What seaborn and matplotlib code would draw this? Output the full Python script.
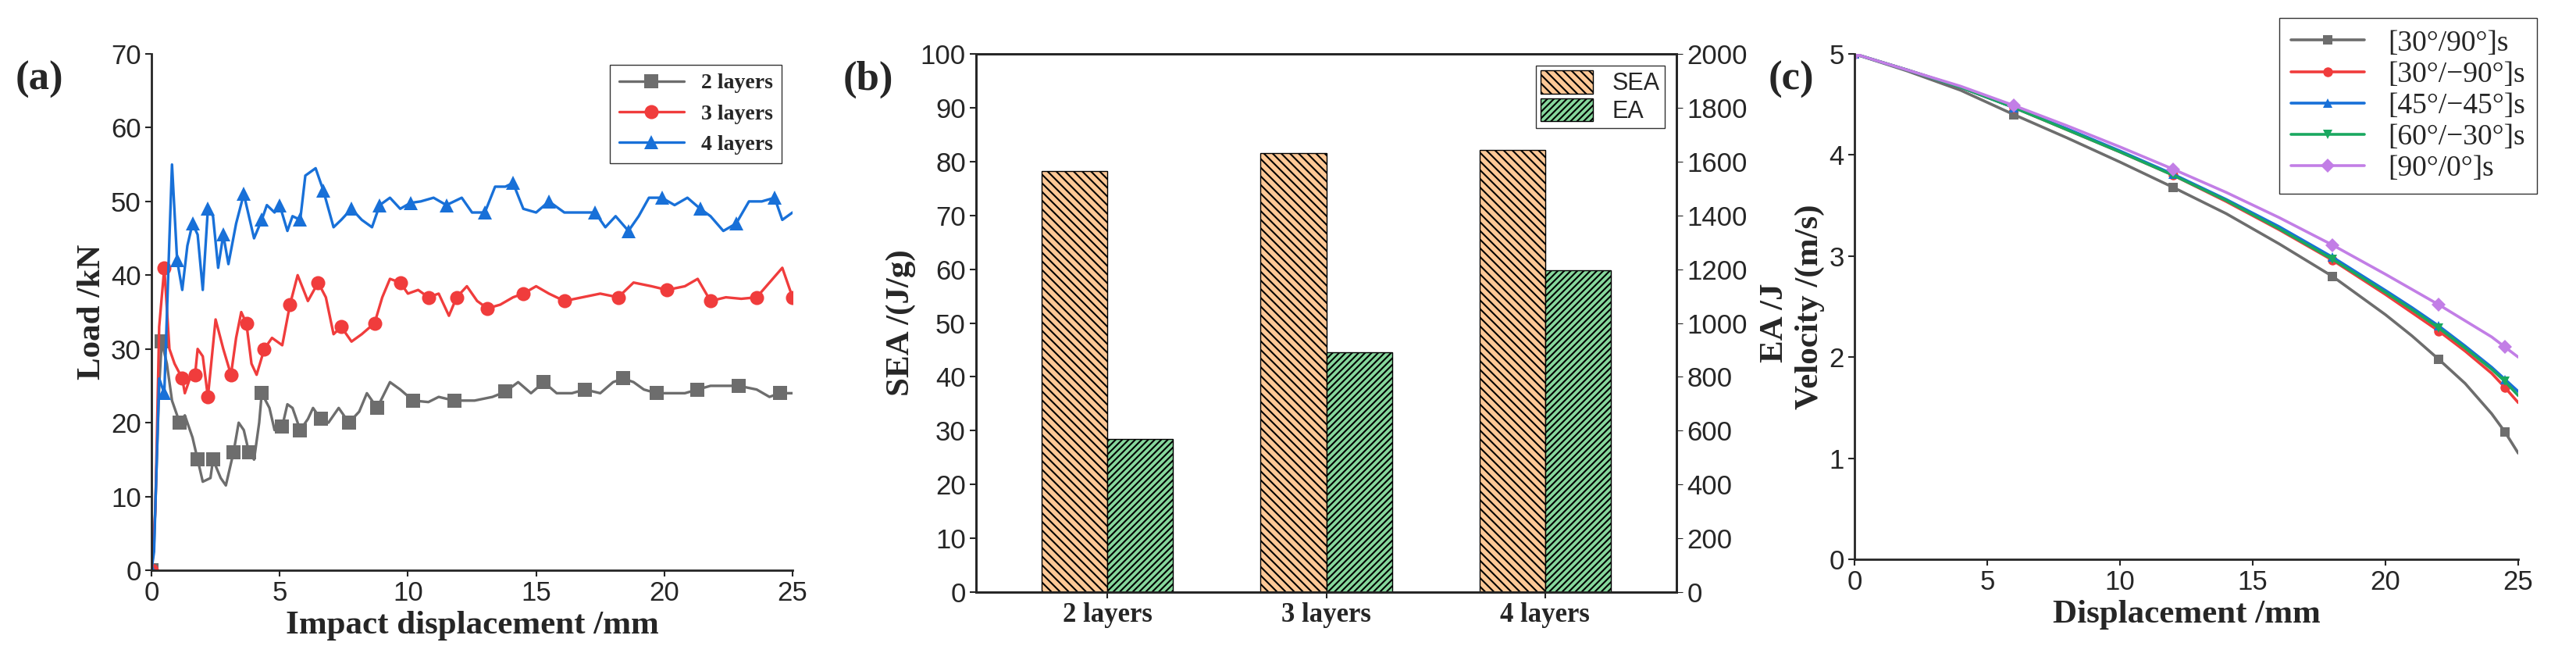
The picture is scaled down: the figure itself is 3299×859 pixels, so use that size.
import numpy as np
import matplotlib
matplotlib.use('Agg')
import matplotlib.pyplot as plt
import seaborn as sns

sns.set_style('ticks')
plt.rcParams['font.family'] = ['Liberation Sans', 'DejaVu Sans']
plt.rcParams['hatch.linewidth'] = 1.5

# (a) load vs displacement
x2 = [0, 0.1, 0.3, 0.4, 0.6, 0.8, 1.1, 1.3, 1.6, 1.8, 2.0, 2.3, 2.4, 2.7, 2.9, 3.2, 3.4, 3.6, 3.8, 4.0, 4.2, 4.3, 4.6, 4.8,
      5.1, 5.3, 5.5, 5.8, 6.1, 6.3, 6.6, 6.9, 7.3, 7.7, 8.1, 8.4, 8.8, 9.3, 9.7, 10.2, 10.8, 11.2, 11.8, 12.6, 13.3, 13.8,
      14.3, 14.8, 15.3, 15.8, 16.4, 16.9, 17.5, 18.0, 18.4, 18.8, 19.2, 19.7, 20.3, 20.8, 21.3, 21.8, 22.4, 22.9, 23.6,
      24.1, 24.5, 25]
y2 = [0, 3.5, 25, 31, 28, 23, 20, 21, 18, 15, 12, 12.5, 15, 12.5, 11.5, 16, 20, 19, 16, 15, 20, 24, 22, 19,
      19.5, 22.5, 22, 19, 20.5, 22, 20.5, 20, 22, 20, 21.5, 24, 22, 25.5, 24.5, 23, 22.8, 23.5, 23, 23, 23.5, 24.2,
      25.5, 24, 25.5, 24, 24, 24.5, 24, 25.5, 26, 25.5, 24.5, 24, 24, 24, 24.5, 25, 25, 25, 24.5,
      23.5, 24, 24]
x3 = [0, 0.15, 0.3, 0.5, 0.7, 0.9, 1.2, 1.3, 1.5, 1.7, 1.8, 2.0, 2.2, 2.5, 2.8, 3.1, 3.3, 3.5, 3.7, 3.9, 4.1, 4.4, 4.7,
      5.1, 5.4, 5.7, 6.1, 6.5, 6.8, 7.1, 7.4, 7.8, 8.2, 8.7, 9.0, 9.3, 9.7, 10.0, 10.4, 10.8, 11.2, 11.6, 11.9, 12.3,
      12.7, 13.1, 13.6, 14.1, 14.5, 15.0, 15.5, 16.1, 16.8, 17.5, 18.2, 18.8, 19.5, 20.1, 20.8, 21.3, 21.8, 22.4,
      23.0, 23.6, 24.1, 24.6, 25]
y3 = [0, 8, 33, 41, 30, 28, 26, 24, 26, 26.5, 30, 29, 23.5, 34, 30, 26.5, 31.5, 35, 33.5, 28, 26.5, 30, 31.5,
      30.5, 36, 40, 36.5, 39, 37, 32, 33, 31, 32, 33.5, 37, 39.5, 39, 37.5, 38, 37, 37.5, 34.5, 37, 38.5,
      36.5, 35.5, 36, 37, 37.5, 38.5, 37.5, 36.5, 37, 37.5, 37, 39, 38.5, 38, 38.5, 39.5, 36.5, 37,
      36.8, 37, 39, 41, 37]
x4 = [0, 0.1, 0.3, 0.5, 0.7, 0.8, 1.0, 1.2, 1.4, 1.6, 1.8, 2.0, 2.2, 2.4, 2.6, 2.8, 3.0, 3.3, 3.6, 3.8, 4.0, 4.3, 4.5,
      4.8, 5.0, 5.3, 5.5, 5.8, 6.0, 6.4, 6.7, 7.1, 7.4, 7.8, 8.2, 8.6, 8.9, 9.3, 9.7, 10.1, 10.5, 11.0, 11.5, 12.1,
      12.5, 13.0, 13.4, 13.8, 14.1, 14.5, 15.0, 15.5, 16.1, 16.7, 17.3, 17.7, 18.1, 18.6, 19.0, 19.4, 19.9, 20.4,
      20.9, 21.4, 21.8, 22.3, 22.8, 23.3, 23.8, 24.3, 24.6, 25]
y4 = [0, 2.5, 26, 24, 45, 55, 42, 38, 44, 47, 45.5, 38, 49, 48, 41, 45.5, 41.5, 47, 51, 48, 45, 47.5, 49.5,
      48.5, 49.5, 46, 48, 47.5, 53.5, 54.5, 51.5, 46.5, 47.5, 49, 47.5, 46.5, 49.5, 50.5, 49, 49.8, 50, 50.5, 49.5, 50.5,
      48.5, 48.5, 52, 52, 52.5, 49, 48.5, 50, 48.5, 48.5, 48.5, 46.5, 48, 46, 48, 50.5, 50.5, 49.5,
      50.5, 49, 48, 46, 47, 50, 50, 50.5, 47.5, 48.5]

# (b) SEA / EA
groups = ['2 layers', '3 layers', '4 layers']
sea = [78.3, 81.5, 82.2]
ea = [570, 890, 1195]

# (c) velocity vs displacement
dv = [0, 2, 4, 6, 8, 10, 12, 14, 16, 18, 20, 21, 22, 23, 24, 24.5, 25]
v_30_90 = [5.0, 4.83, 4.64, 4.40, 4.17, 3.93, 3.68, 3.42, 3.12, 2.80, 2.42, 2.21, 1.98, 1.74, 1.44, 1.26, 1.05]
v_30_m90 = [5.0, 4.84, 4.67, 4.47, 4.25, 4.03, 3.80, 3.54, 3.26, 2.96, 2.62, 2.44, 2.26, 2.06, 1.84, 1.70, 1.55]
v_45_m45 = [5.0, 4.84, 4.67, 4.47, 4.26, 4.04, 3.81, 3.56, 3.29, 2.99, 2.66, 2.49, 2.31, 2.11, 1.90, 1.78, 1.66]
v_60_m30 = [5.0, 4.84, 4.67, 4.47, 4.25, 4.03, 3.80, 3.55, 3.27, 2.97, 2.64, 2.47, 2.29, 2.09, 1.88, 1.76, 1.62]
v_90_0 = [5.0, 4.84, 4.68, 4.49, 4.29, 4.08, 3.86, 3.63, 3.38, 3.11, 2.82, 2.67, 2.52, 2.36, 2.20, 2.10, 2.00]
v_labels = ['[30°/90°]s', '[30°/−90°]s', '[45°/−45°]s', '[60°/−30°]s', '[90°/0°]s']

serif = ['Liberation Serif', 'DejaVu Serif']
lab_kw = dict(family=serif, fontweight='bold', fontsize=31)
tick_fs = 25

fig = plt.figure(figsize=(32.99, 8.59), dpi=100)
W, H = 3299, 859
ax1 = fig.add_axes([194 / W, 1 - 730 / H, (1015 - 194) / W, (730 - 69) / H])
ax2 = fig.add_axes([1250 / W, 1 - 758 / H, (2147 - 1250) / W, (758 - 69) / H])
ax3 = fig.add_axes([2375 / W, 1 - 716 / H, (3225 - 2375) / W, (716 - 69) / H])

# panel a
for xs, ys, c, m, lab in [(x2, y2, '#6d6d6d', 's', '2 layers'), (x3, y3, '#f03c3c', 'o', '3 layers'),
                          (x4, y4, '#1870d8', '^', '4 layers')]:
    sns.lineplot(x=xs, y=ys, color=c, marker=m, markersize=13, markevery=3, markeredgewidth=0,
                 linewidth=2.4, label=lab, ax=ax1)
ax1.set_xlim(0, 25)
ax1.set_ylim(0, 70)
ax1.set_xticks(range(0, 26, 5))
ax1.set_yticks(range(0, 71, 10))
ax1.set_xlabel('Impact displacement /mm', **lab_kw)
ax1.set_ylabel('Load /kN', **lab_kw)
ax1.legend(loc='upper right', prop={'family': serif, 'weight': 'bold', 'size': 20},
           frameon=True, fancybox=False, edgecolor='black', handlelength=3)
sns.despine(ax=ax1)

# panel b
xpos = np.arange(len(groups))
wdt = 0.3
ax2b = ax2.twinx()
ax2.bar(xpos - wdt / 2, sea, wdt, color='#fdc896', edgecolor='black', hatch='\\\\\\', label='SEA', linewidth=1)
ax2b.bar(xpos + wdt / 2, ea, wdt, color='#86d79c', edgecolor='black', hatch='////', label='EA', linewidth=1)
ax2.set_ylim(0, 100)
ax2b.set_ylim(0, 2000)
ax2.set_yticks(range(0, 101, 10))
ax2b.set_yticks(range(0, 2001, 200))
ax2.set_xlim(-0.6, 2.6)
ax2.set_xticks(xpos)
ax2.set_xticklabels(groups, family=serif, fontweight='bold', fontsize=29)
ax2.set_ylabel('SEA /(J/g)', **lab_kw)
ax2b.set_ylabel('EA /J', labelpad=12, **lab_kw)
h1, l1 = ax2.get_legend_handles_labels()
h2, l2 = ax2b.get_legend_handles_labels()
ax2.legend(h1 + h2, l1 + l2, loc='upper right', fontsize=22, frameon=True, fancybox=False,
           edgecolor='black', handlelength=2.2, handleheight=1.1, labelspacing=0.1, borderpad=0.2)
ax2b.tick_params(labelsize=tick_fs, direction='out', length=6)

# panel c
vcols = ['#6d6d6d', '#f03c3c', '#1870d8', '#1aa860', '#c27ee6']
vmarks = ['s', 'o', '^', 'v', 'D']
for vs, c, m, lab in zip([v_30_90, v_30_m90, v_45_m45, v_60_m30, v_90_0], vcols, vmarks, v_labels):
    sns.lineplot(x=dv, y=vs, color=c, marker=m, markersize=9, markevery=3, markeredgewidth=0, linewidth=2.6,
                 label=lab, ax=ax3)
ax3.set_xlim(0, 25)
ax3.set_ylim(0, 5)
ax3.set_xticks(range(0, 26, 5))
ax3.set_xlabel('Displacement /mm', **lab_kw)
ax3.set_ylabel('Velocity /(m/s)', **lab_kw)
ax3.legend(loc='upper right', bbox_to_anchor=(1.05, 1.1), prop={'family': serif, 'size': 27},
           frameon=True, fancybox=False, edgecolor='black', handlelength=2.5, labelspacing=0.15)
sns.despine(ax=ax3)

for ax in (ax1, ax2, ax3):
    ax.tick_params(labelsize=tick_fs, direction='out', length=6, width=1.5)
    for s in ax.spines.values():
        s.set_linewidth(2)
for s in ax2b.spines.values():
    s.set_linewidth(2)

for xf, txt in [(20 / W, '(a)'), (1080 / W, '(b)'), (2265 / W, '(c)')]:
    fig.text(xf, 1 - 115 / H, txt, family=serif, fontweight='bold', fontsize=38)

fig.savefig('out.png', dpi=100)
